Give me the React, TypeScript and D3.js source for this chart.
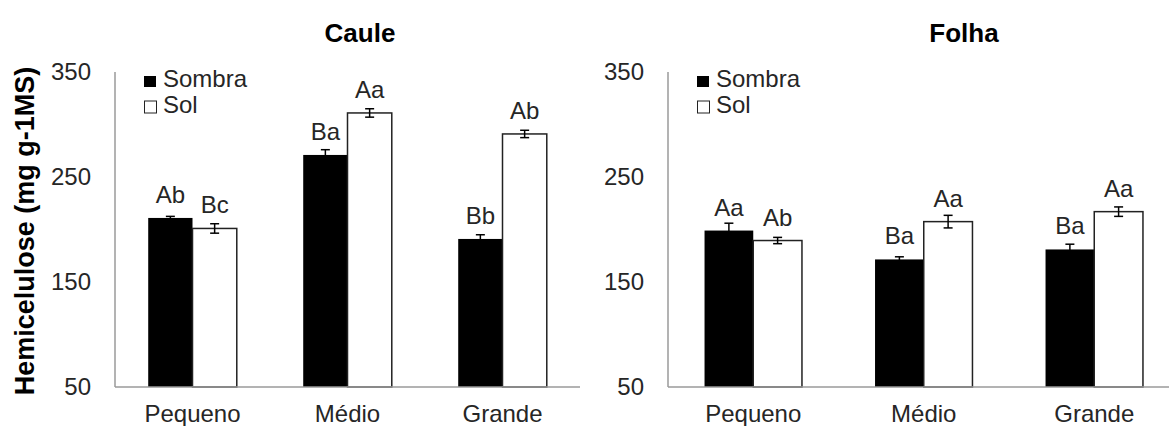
import React from "react";
import * as d3 from "d3";

const categories = ["Pequeno", "Médio", "Grande"];
const seriesNames = ["Sombra", "Sol"];
const yTicks = [50, 150, 250, 350];

const cauleSombra = [211, 271, 191];
const cauleSol = [201, 311, 291];
const cauleSombraErr = [1.5, 5, 4];
const cauleSolErr = [4.5, 4, 3.5];
const cauleSombraLabels = ["Ab", "Ba", "Bb"];
const cauleSolLabels = ["Bc", "Aa", "Ab"];

const folhaSombra = [199, 171.5, 181];
const folhaSol = [189.5, 207.5, 217];
const folhaSombraErr = [7, 2.5, 5];
const folhaSolErr = [3, 6, 4.5];
const folhaSombraLabels = ["Aa", "Ba", "Ba"];
const folhaSolLabels = ["Ab", "Aa", "Aa"];

const FONT = "'Liberation Sans', Arial, sans-serif";
const TXT = "#262626";
const AXIS = "#9a9a9a";
const FS = 24;

type PanelProps = {
  title: string;
  titleX: number;
  x0: number;
  x1: number;
  sombra: number[];
  sol: number[];
  sombraErr: number[];
  solErr: number[];
  sombraLabels: string[];
  solLabels: string[];
  clipRight: number;
};

const yScale = d3.scaleLinear().domain([50, 350]).range([387, 72]);

function Panel(p: PanelProps) {
  const xOuter = d3
    .scaleBand<string>()
    .domain(categories)
    .range([p.x0, p.x1])
    .paddingInner(1.5 / 3.5)
    .paddingOuter(0.75 / 3.5);
  const xInner = d3
    .scaleBand<string>()
    .domain(seriesNames)
    .range([0, xOuter.bandwidth()]);
  const bw = xInner.bandwidth();
  const base = yScale(50);
  const series = [
    { name: "Sombra", vals: p.sombra, errs: p.sombraErr, labels: p.sombraLabels },
    { name: "Sol", vals: p.sol, errs: p.solErr, labels: p.solLabels },
  ];
  const legendX = p.x0 + 29;
  return (
    <g>
      <text x={p.titleX} y={42} textAnchor="middle" fontFamily={FONT} fontWeight="bold" fontSize={26} fill="#000">
        {p.title}
      </text>
      {yTicks.map((t) => (
        <text key={t} x={p.x0 - 24} y={yScale(t)} dy="0.35em" textAnchor="end" fontFamily={FONT} fontSize={FS} fill={TXT}>
          {t}
        </text>
      ))}
      {series.map((s) =>
        categories.map((c, i) => {
          const bx = (xOuter(c) as number) + (xInner(s.name) as number);
          const top = yScale(s.vals[i]);
          const cx = bx + bw / 2;
          const eTop = yScale(s.vals[i] + s.errs[i]);
          const eBot = yScale(s.vals[i] - s.errs[i]);
          return (
            <g key={s.name + c}>
              {s.name === "Sombra" ? (
                <rect x={bx} y={top} width={bw} height={base - top} fill="#000" />
              ) : (
                <rect x={bx} y={top} width={bw} height={base - top} fill="#fff" stroke="#222" strokeWidth={1.5} />
              )}
              <line x1={cx} x2={cx} y1={eTop} y2={eBot} stroke="#000" strokeWidth={1.5} />
              <line x1={cx - 4.5} x2={cx + 4.5} y1={eTop} y2={eTop} stroke="#000" strokeWidth={1.5} />
              <line x1={cx - 4.5} x2={cx + 4.5} y1={eBot} y2={eBot} stroke="#000" strokeWidth={1.5} />
              <text x={cx} y={top - 15} textAnchor="middle" fontFamily={FONT} fontSize={FS} fill={TXT}>
                {s.labels[i]}
              </text>
            </g>
          );
        })
      )}
      <line x1={p.x0} x2={p.x0} y1={yScale(350)} y2={base} stroke={AXIS} strokeWidth={1.5} />
      <line x1={p.x0} x2={Math.min(p.x1, p.clipRight)} y1={base} y2={base} stroke={AXIS} strokeWidth={1.5} />
      {categories.map((c) => (
        <text
          key={c}
          x={(xOuter(c) as number) + xOuter.bandwidth() / 2}
          y={422}
          textAnchor="middle"
          fontFamily={FONT}
          fontSize={FS}
          fill={TXT}
        >
          {c}
        </text>
      ))}
      <rect x={legendX} y={76} width={12} height={11} fill="#000" />
      <text x={legendX + 19} y={87} fontFamily={FONT} fontSize={FS} fill={TXT}>
        {seriesNames[0]}
      </text>
      <rect x={legendX + 0.5} y={101} width={12} height={12} fill="#fff" stroke="#222" strokeWidth={1} />
      <text x={legendX + 19} y={112.5} fontFamily={FONT} fontSize={FS} fill={TXT}>
        {seriesNames[1]}
      </text>
    </g>
  );
}

export default function App() {
  return (
    <svg
      width={1169}
      height={426}
      style={{ position: "absolute", left: 0, top: 0, background: "#fff" }}
    >
      <rect x={0} y={0} width={1169} height={426} fill="#fff" />
      <text
        transform="translate(34,231) rotate(-90)"
        textAnchor="middle"
        fontFamily={FONT}
        fontWeight="bold"
        fontSize={27}
        fill="#000"
      >
        Hemicelulose (mg g-1MS)
      </text>
      <Panel
        title="Caule"
        titleX={360}
        x0={115}
        x1={580}
        sombra={cauleSombra}
        sol={cauleSol}
        sombraErr={cauleSombraErr}
        solErr={cauleSolErr}
        sombraLabels={cauleSombraLabels}
        solLabels={cauleSolLabels}
        clipRight={590}
      />
      <Panel
        title="Folha"
        titleX={964}
        x0={668}
        x1={1179.5}
        sombra={folhaSombra}
        sol={folhaSol}
        sombraErr={folhaSombraErr}
        solErr={folhaSolErr}
        sombraLabels={folhaSombraLabels}
        solLabels={folhaSolLabels}
        clipRight={1169}
      />
    </svg>
  );
}
